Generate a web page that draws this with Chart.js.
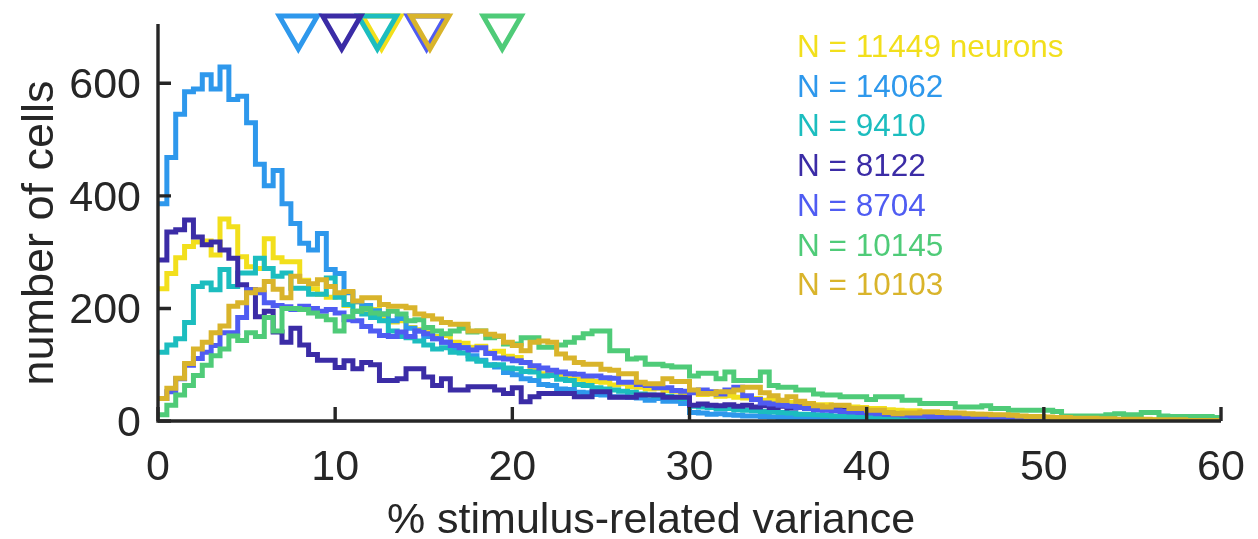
<!DOCTYPE html>
<html>
<head>
<meta charset="utf-8">
<script src="https://cdn.jsdelivr.net/npm/chart.js@4/dist/chart.umd.min.js"></script>
<style>
html,body{margin:0;padding:0;background:#ffffff;}
#wrap{width:1258px;height:539px;position:relative;}
</style>
</head>
<body>
<div id="wrap"><canvas id="c" width="1258" height="539"></canvas></div>
<script>
// ---------- data (counts per 0.5 % bin, 0..60) ----------
const binStart = 0;
const binWidth = 0.5;

const seriesLabels = ["N = 11449 neurons", "N = 14062", "N = 9410", "N = 8122", "N = 8704", "N = 10145", "N = 10103"];
const seriesColors = ["#F2DF1C", "#2E98EC", "#1CBDBF", "#3B2CA6", "#4F5CF2", "#4FCB78", "#D9B42B"];

const yellowCounts = [
  235,262,290,310,318,320,295,359,345,292,
  274,271,324,290,283,283,250,235,225,220,
  225,205,212,195,198,182,176,178,166,162,
  158,150,152,140,138,131,133,122,124,115,
  113,104,92,84,86,80,79,74,72,70,
  69,64,66,61,60,57,58,54,53,50,
  51,47,48,44,45,42,41,40,37,38,
  35,33,33,30,29,29,27,26,25,24,
  22,22,20,19,18,18,16,16,15,14,
  13,12,12,10,10,9,9,8,7,6,
  6,6,5,4,4,4,3,3,2,2,
  2,2,2,1,1,1,1,1,1,0];

const lightBlueCounts = [
  386,468,545,585,590,615,590,629,571,577,
  530,456,418,445,386,351,316,304,333,269,
  262,228,212,205,196,190,178,182,165,160,
  150,146,140,128,130,116,108,100,96,86,
  82,75,72,65,63,57,56,51,50,47,
  46,43,43,42,41,37,40,35,35,31,
  15,14,12,13,11,10,9,9,8,7,
  6,6,5,5,4,4,3,3,3,2,
  2,2,2,1,1,1,1,1,1,1,
  1,1,1,0,1,0,0,1,0,0,
  0,0,0,0,0,0,0,0,0,0,
  0,0,0,0,0,0,0,0,0,0];

const cyanCounts = [
  122,135,146,175,239,245,233,269,239,263,
  263,289,271,257,263,236,236,225,225,254,
  220,207,195,190,184,178,160,150,148,142,
  135,128,130,122,121,110,106,99,100,94,
  93,88,87,80,81,74,72,65,63,59,
  57,55,53,51,48,46,45,44,42,40,
  26,25,24,22,22,20,19,18,17,16,
  15,14,12,12,11,10,9,9,8,8,
  7,6,6,5,5,4,4,3,3,3,
  3,2,2,2,2,2,1,1,1,1,
  1,1,1,1,0,1,0,0,0,0,
  0,0,0,0,0,0,0,0,0,0];

const purpleCounts = [
  286,336,340,357,327,313,318,304,289,242,
  233,185,195,158,140,165,135,118,108,108,
  95,107,93,104,100,72,72,75,93,93,
  78,63,75,55,55,61,61,61,55,49,
  59,34,43,49,49,49,49,43,43,52,
  52,42,42,42,46,46,46,42,42,42,
  28,30,28,27,29,26,28,25,27,24,
  26,23,25,22,24,21,22,19,20,18,
  15,14,13,12,12,10,10,9,8,8,
  7,6,6,5,5,4,4,4,3,3,
  3,3,2,2,2,2,2,1,1,1,
  1,1,1,1,1,0,1,0,0,0];

const blueCounts = [
  40,52,75,99,111,122,134,157,157,184,
  233,228,210,205,203,198,204,200,195,198,
  192,180,178,168,160,152,150,158,150,160,
  155,146,140,134,130,126,130,120,112,110,
  107,104,98,94,90,87,84,83,80,80,
  77,76,69,69,65,63,59,59,54,53,
  50,55,52,48,55,60,45,38,32,30,
  28,26,24,22,20,19,18,17,16,15,
  14,13,12,11,10,9,9,8,7,7,
  6,6,5,5,4,4,4,3,3,3,
  3,2,2,2,2,1,1,1,1,1,
  1,1,1,0,1,0,0,0,0,0];

const greenCounts = [
  11,28,46,63,81,99,116,128,151,143,
  157,150,184,160,200,200,198,192,186,180,
  160,185,195,200,192,190,195,190,178,180,
  166,160,155,160,165,158,160,148,150,137,
  137,148,148,131,131,135,140,148,155,160,
  160,125,125,110,112,101,101,98,96,96,
  80,85,85,75,87,72,72,72,87,63,
  60,60,55,55,48,46,46,43,43,43,
  38,43,43,43,37,37,31,31,31,31,
  25,25,25,27,22,22,19,19,19,19,
  19,17,9,9,9,9,9,11,13,11,
  11,15,15,9,8,8,8,8,8,6];

const goldCounts = [
  40,58,76,102,128,140,157,169,204,210,
  228,233,248,234,219,257,248,244,251,239,
  228,230,213,219,219,207,204,204,201,190,
  187,181,175,172,172,160,160,154,151,140,
  134,125,140,142,140,119,112,104,101,101,
  92,90,84,84,69,66,66,75,70,70,
  55,49,49,52,52,55,60,60,50,45,
  37,43,35,31,27,25,28,28,22,22,
  19,19,15,13,14,14,16,16,15,14,
  14,13,12,12,11,11,10,9,8,8,
  7,6,6,5,5,5,4,4,3,3,
  3,3,2,2,2,2,1,1,1,1];

// median markers (% variance) in the same series order
const medianValues = [12.62, 7.92, 12.38, 10.37, 15.16, 19.43, 15.35];

const xTicks = [0, 10, 20, 30, 40, 50, 60];
const yTicks = [0, 200, 400, 600];
const xMin = 0, xMax = 60, yMin = 0, yMax = 700;
const xTitle = "% stimulus-related variance";
const yTitle = "number of cells";

const allCounts = [yellowCounts, lightBlueCounts, cyanCounts, purpleCounts, blueCounts, greenCounts, goldCounts];

// ---------- build datasets ----------
function stairs(vals) {
  const pts = vals.map((v, i) => ({ x: binStart + i * binWidth, y: v }));
  pts.push({ x: binStart + vals.length * binWidth, y: vals[vals.length - 1] });
  return pts;
}

const datasets = [];
allCounts.forEach((vals, i) => {
  datasets.push({
    label: seriesLabels[i],
    data: stairs(vals),
    borderColor: seriesColors[i],
    backgroundColor: seriesColors[i],
    borderWidth: 5,
    borderJoinStyle: 'miter',
    stepped: 'before',
    pointRadius: 0,
    pointHoverRadius: 0,
    fill: false,
    tension: 0,
    order: 40 - i
  });
});
allCounts.forEach((vals, i) => {
  datasets.push({
    label: 'median ' + seriesLabels[i],
    data: [{ x: medianValues[i], y: yMax }],
    showLine: false,
    pointStyle: 'triangle',
    rotation: 180,
    pointRadius: 22,
    pointHoverRadius: 22,
    pointBorderWidth: 5,
    borderColor: seriesColors[i],
    pointBorderColor: seriesColors[i],
    backgroundColor: 'rgba(0,0,0,0)',
    pointBackgroundColor: 'rgba(0,0,0,0)',
    clip: false,
    order: 20 - i
  });
});

const axisColor = '#262626';
const fontFam = '"Liberation Sans", Arial, Helvetica, sans-serif';

const decorPlugin = {
  id: 'decor',
  afterDraw(chart) {
    const { ctx, chartArea: a, scales } = chart;
    const xs = scales.x, ys = scales.y;
    ctx.save();
    // axes
    ctx.strokeStyle = axisColor;
    ctx.lineWidth = 3.4;
    ctx.lineCap = 'butt';
    ctx.beginPath();
    ctx.moveTo(a.left, a.top - 3);
    ctx.lineTo(a.left, a.bottom + 1.7);
    ctx.moveTo(a.left - 1.7, a.bottom);
    ctx.lineTo(a.right, a.bottom);
    ctx.stroke();
    // ticks (inward)
    ctx.beginPath();
    xTicks.forEach(v => {
      const px = xs.getPixelForValue(v);
      ctx.moveTo(px, a.bottom);
      ctx.lineTo(px, a.bottom - 14);
    });
    yTicks.forEach(v => {
      const py = ys.getPixelForValue(v);
      ctx.moveTo(a.left, py);
      ctx.lineTo(a.left + 13, py);
    });
    ctx.stroke();
    // tick labels
    ctx.fillStyle = axisColor;
    ctx.font = '43px ' + fontFam;
    ctx.textAlign = 'right';
    ctx.textBaseline = 'alphabetic';
    yTicks.forEach(v => {
      ctx.fillText(String(v), a.left - 17, ys.getPixelForValue(v) + 15);
    });
    ctx.textAlign = 'center';
    xTicks.forEach(v => {
      ctx.fillText(String(v), xs.getPixelForValue(v), a.bottom + 59);
    });
    // axis titles
    ctx.font = '43px ' + fontFam;
    ctx.textAlign = 'center';
    ctx.fillText(xTitle, 651, 533);
    ctx.save();
    ctx.translate(53, 233);
    ctx.rotate(-Math.PI / 2);
    ctx.font = '45px ' + fontFam;
    ctx.fillText(yTitle, 0, 0);
    ctx.restore();
    // legend text
    ctx.font = '31.5px ' + fontFam;
    ctx.textAlign = 'left';
    seriesLabels.forEach((t, i) => {
      ctx.fillStyle = seriesColors[i];
      ctx.fillText(t, 797, 57 + i * 39.7);
    });
    ctx.restore();
  }
};

new Chart(document.getElementById('c'), {
  type: 'line',
  data: { datasets },
  options: {
    responsive: false,
    animation: false,
    devicePixelRatio: 1,
    layout: { padding: { top: 23, right: 37, left: 0, bottom: 0 } },
    plugins: { legend: { display: false }, tooltip: { enabled: false } },
    events: [],
    scales: {
      x: {
        type: 'linear', min: xMin, max: xMax,
        grid: { display: false, drawTicks: false },
        border: { display: false },
        ticks: { display: false },
        afterFit(scale) { scale.height = 118; }
      },
      y: {
        type: 'linear', min: yMin, max: yMax,
        grid: { display: false, drawTicks: false },
        border: { display: false },
        ticks: { display: false },
        afterFit(scale) { scale.width = 158; }
      }
    }
  },
  plugins: [decorPlugin]
});
</script>
</body>
</html>
